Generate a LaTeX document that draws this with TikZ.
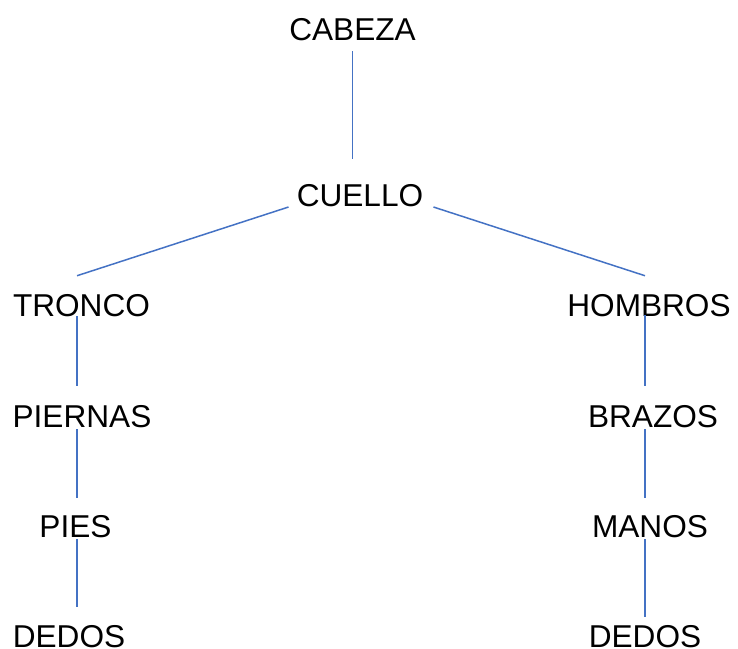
\documentclass[tikz,border=0pt]{standalone}
\usepackage{fontspec}
\setmainfont{Liberation Sans}
\usepackage{xcolor}
\usepackage{tikz}
\usetikzlibrary{calc}
\definecolor{linkblue}{HTML}{4472C4}

\begin{document}
\begin{tikzpicture}[x=1pt, y=-1pt,
            part/.style = {inner sep=0pt, anchor=base,
                font=\fontsize{31.6}{38}\selectfont},
            link/.style = {draw=linkblue, line width=1.5pt}]

        \useasboundingbox (0,0) rectangle (738,648);

        % Columns
        \coordinate (izq) at (77,0);
        \coordinate (der) at (645,0);

        % Top
        \node[part] (cabeza) at (352.5,40) {CABEZA};
        \node[part] (cuello) at (360,206) {CUELLO};

        % Left branch
        \node[part] (tronco) at (81.5,316) {TRONCO};
        \node[part] (piernas) at (82,427) {PIERNAS};
        \node[part] (pies) at (75.5,537) {PIES};
        \node[part] (dedosL) at (69,647) {DEDOS};

        % Right branch
        \node[part] (hombros) at (649,316) {HOMBROS};
        \node[part] (brazos) at (653,427) {BRAZOS};
        \node[part] (manos) at (650,537) {MANOS};
        \node[part] (dedosR) at (645,647) {DEDOS};

        % Lines
        \draw[link] ($(cabeza.base)+(0,11)$) -- ($(cuello.north -| cabeza.base)+(0,-25)$);
        \draw[link] ($(cuello.base west)+(-8,1)$) -- ($(tronco.north -| izq)+(0,-18)$);
        \draw[link] ($(cuello.base east)+(10,1)$) -- ($(hombros.north -| der)+(0,-18)$);

        \draw[link] (tronco.base -| izq) -- ($(piernas.north -| izq)+(0,-19)$);
        \draw[link] ($(piernas.base -| izq)+(0,2)$) -- ($(pies.north -| izq)+(0,-17)$);
        \draw[link] ($(pies.base -| izq)+(0,2)$) -- ($(dedosL.north -| izq)+(0,-18)$);

        \draw[link] ($(hombros.base -| der)+(0,-1)$) -- ($(brazos.north -| der)+(0,-19)$);
        \draw[link] ($(brazos.base -| der)+(0,2)$) -- ($(manos.north -| der)+(0,-17)$);
        \draw[link] ($(manos.base -| der)+(0,2)$) -- ($(dedosR.north -| der)+(0,-8)$);

\end{tikzpicture}
\end{document}
